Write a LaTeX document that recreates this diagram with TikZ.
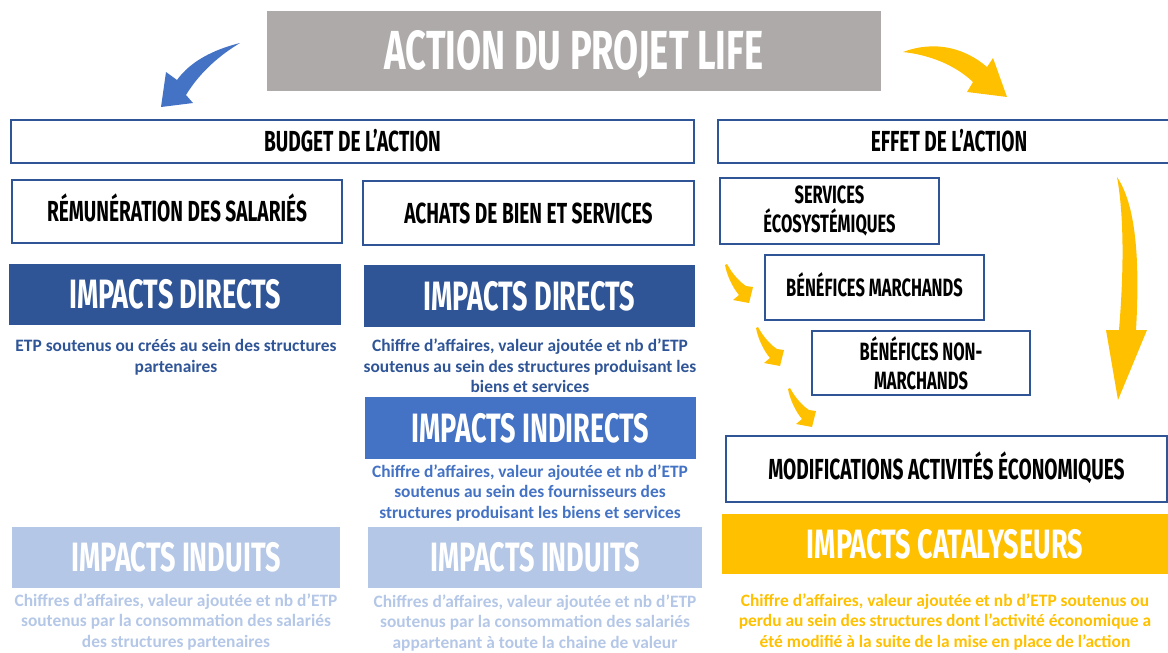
\documentclass[tikz,border=0pt]{standalone}
\usepackage{fontspec}
\setmainfont{Carlito}
\newfontfamily\headfont[FakeStretch=0.66]{Fira Sans}

\definecolor{navy}{HTML}{2F5597}
\definecolor{midblue}{HTML}{4472C4}
\definecolor{paleblue}{HTML}{B4C7E7}
\definecolor{gold}{HTML}{FFC000}
\definecolor{stone}{HTML}{AEAAAA}

\tikzset{
  outbase/.style={draw=navy, line width=2.6pt, fill=white, inner sep=0pt,
    text=black, align=center},
  outbox/.style={outbase, font=\headfont\bfseries\fontsize{29}{30}\selectfont,
    text height=20pt, text depth=0pt},
  smallbox/.style={outbase, font=\headfont\bfseries\fontsize{25}{29}\selectfont},
  fillbox/.style={inner sep=0pt, text=white,
    font=\headfont\bfseries\fontsize{41}{41}\selectfont,
    text height=28.5pt, text depth=0pt},
  bodytext/.style={align=center, inner sep=0pt,
    font=\bfseries\fontsize{17.4}{20.6}\selectfont},
  arrblue/.style={fill=midblue},
  arrgold/.style={fill=gold}
}

\begin{document}
\begin{tikzpicture}[x=1pt,y=-1pt]
\useasboundingbox (0,0) rectangle (1168,653);

% title banner
\node[fillbox, fill=stone, minimum width=614, minimum height=80,
  font=\headfont\bfseries\fontsize{55}{55}\selectfont, text height=38pt] (title) at (574,50.5) {ACTION DU PROJET LIFE};

% curved arrows leaving the banner
\fill[arrblue] (240,43) .. controls (212,50) and (190,62) .. (177,80)
  -- (166,72) -- (161,107) -- (193,103) -- (186,95)
  .. controls (200,72) and (220,55) .. (240,43) -- cycle;
\fill[arrgold] (903,52) .. controls (935,40) and (965,48) .. (987,67)
  -- (993,58) -- (1007,97) -- (967,92) -- (973,82)
  .. controls (955,65) and (930,55) .. (903,52) -- cycle;

% column headers
\node[outbox, minimum width=683, minimum height=43] (budget) at (352.5,141.5) {BUDGET DE L’ACTION};
\node[outbox, minimum width=462, minimum height=43] (effet) at (949,141.5) {EFFET DE L’ACTION};

% budget column: spending items
\node[outbox, minimum width=330, minimum height=63] (remun) at (177,211.5) {RÉMUNÉRATION DES SALARIÉS};
\node[outbox, minimum width=331, minimum height=64] (achats) at (528.5,213) {ACHATS DE BIEN ET SERVICES};

% direct impacts
\node[fillbox, fill=navy, minimum width=332, minimum height=61] (dirL) at (175,294.5) {IMPACTS DIRECTS};
\node[fillbox, fill=navy, minimum width=331, minimum height=62] (dirR) at (529.5,296) {IMPACTS DIRECTS};
\node[bodytext, text=navy] (dirLtxt) at (176,357) {ETP soutenus ou créés au sein des structures\\partenaires};
\node[bodytext, text=navy] (dirRtxt) at (530,366) {Chiffre d’affaires, valeur ajoutée et nb d’ETP\\soutenus au sein des structures produisant les\\biens et services};

% indirect impacts
\node[fillbox, fill=midblue, minimum width=331, minimum height=62] (indir) at (530.5,428) {IMPACTS INDIRECTS};
\node[bodytext, text=midblue] (indirtxt) at (530,493) {Chiffre d’affaires, valeur ajoutée et nb d’ETP\\soutenus au sein des fournisseurs des\\structures produisant les biens et services};

% induced impacts
\node[fillbox, fill=paleblue, minimum width=328, minimum height=61] (indL) at (176,557.5) {IMPACTS INDUITS};
\node[fillbox, fill=paleblue, minimum width=334, minimum height=61] (indM) at (535,557.5) {IMPACTS INDUITS};
\node[bodytext, text=paleblue] (indLtxt) at (176,622) {Chiffres d’affaires, valeur ajoutée et nb d’ETP\\soutenus par la consommation des salariés\\des structures partenaires};
\node[bodytext, text=paleblue] (indMtxt) at (535,623) {Chiffres d’affaires, valeur ajoutée et nb d’ETP\\soutenus par la consommation des salariés\\appartenant à toute la chaine de valeur};

% effect column: cascade of benefits
\node[smallbox, minimum width=219, minimum height=66] (eco) at (829.5,211) {SERVICES\\ÉCOSYSTÉMIQUES};
\node[smallbox, minimum width=219, minimum height=65, text height=17pt, text depth=0pt] (march) at (874.5,287.5) {BÉNÉFICES MARCHANDS};
\node[smallbox, minimum width=218, minimum height=64] (nonmarch) at (921,363) {BÉNÉFICES NON-\\MARCHANDS};
\node[outbox, minimum width=441, minimum height=66] (modif) at (946.5,469) {MODIFICATIONS ACTIVITÉS ÉCONOMIQUES};

% small cascade arrows
\foreach \dx/\dy in {0/0, 31/63, 63/124}{
  \fill[arrgold, shift={(\dx,\dy)}] (727,264) .. controls (733,275) and (740,282) .. (746,286)
    -- (753,287) -- (749,303) -- (733,300) -- (739,295)
    .. controls (733,288) and (727,276) .. (725,265) -- cycle;
}

% long arrow down the effect column
\fill[arrgold] (1117,177) .. controls (1136,205) and (1140,260) .. (1136,330)
  -- (1147,330) -- (1118,400) -- (1106,330) -- (1119,330)
  .. controls (1124,270) and (1124,215) .. (1117,177) -- cycle;

% catalytic impacts
\node[fillbox, fill=gold, minimum width=446, minimum height=60] (cata) at (945,544) {IMPACTS CATALYSEURS};
\node[bodytext, text=gold] (catatxt) at (945,622) {Chiffre d’affaires, valeur ajoutée et nb d’ETP soutenus ou\\perdu au sein des structures dont l’activité économique a\\été modifié à la suite de la mise en place de l’action};
\end{tikzpicture}
\end{document}
